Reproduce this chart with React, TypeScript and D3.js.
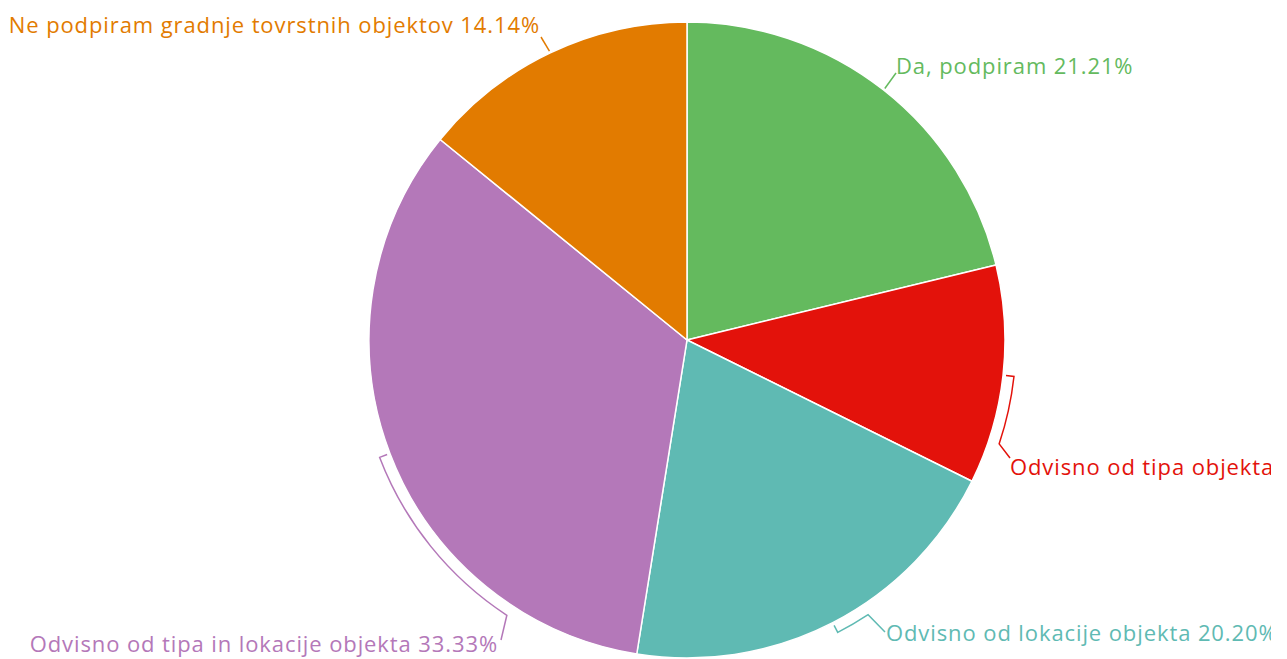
import React from "react";
import * as d3 from "d3";

const categories = [
  "Da, podpiram",
  "Odvisno od tipa objekta",
  "Odvisno od lokacije objekta",
  "Odvisno od tipa in lokacije objekta",
  "Ne podpiram gradnje tovrstnih objektov",
];
const values = [21.21, 11.11, 20.2, 33.33, 14.14];
const colors = ["#64BA5E", "#E3120B", "#5FBAB3", "#B478B9", "#E27B00"];

// label layout: arc end angle (deg), connector end point and text position relative to center, anchor
const labelLayout = [
  { arcTo: null, lx: 209, ly: -267, tx: 209, ty: -266, anchor: "start" },
  { arcTo: 108.4, lx: 323, ly: 118, tx: 323, ty: 135, anchor: "start" },
  { arcTo: 146.6, lx: 198, ly: 292, tx: 199, ty: 301, anchor: "start" },
  { arcTo: 213.2, lx: -186, ly: 300, tx: -189, ty: 312, anchor: "end" },
  { arcTo: null, lx: -146, ly: -303, tx: -147, ty: -307, anchor: "end" },
];

const W = 1287;
const H = 659;
const cx = 687;
const cy = 340;
const R = 318;
const clipW = 1271;

export default function App() {
  const pie = d3.pie<number>().sort(null).value((d) => d);
  const arcs = pie(values);
  const arcGen = d3.arc<d3.PieArcDatum<number>>().innerRadius(0).outerRadius(R);
  const pt = (a: number, r: number): [number, number] => [cx + r * Math.sin(a), cy - r * Math.cos(a)];
  const fmt = d3.format(".2f");

  return (
    <div style={{ position: "fixed", left: 0, top: 0, width: W, height: H, overflow: "hidden", background: "#fff" }}>
      <svg width={W} height={H} style={{ display: "block", fontFamily: "'Open Sans', sans-serif" }}>
        <defs>
          <clipPath id="plotClip">
            <rect x={0} y={0} width={clipW} height={H} />
          </clipPath>
        </defs>
        <g transform={`translate(${cx},${cy})`}>
          {arcs.map((a, i) => (
            <path key={i} d={arcGen(a) || ""} fill={colors[i]} stroke="#fff" strokeWidth={1.5} strokeLinejoin="round" />
          ))}
        </g>
        <g clipPath="url(#plotClip)">
          {arcs.map((a, i) => {
            const mid = (a.startAngle + a.endAngle) / 2;
            const L = labelLayout[i];
            const p = d3.path();
            if (L.arcTo === null) {
              const s = pt(mid, R + 2);
              p.moveTo(s[0], s[1]);
              p.lineTo(cx + L.lx, cy + L.ly);
            } else {
              const RA = R + 11;
              const s = pt(mid, R + 3);
              const e = pt(mid, RA);
              p.moveTo(s[0], s[1]);
              p.lineTo(e[0], e[1]);
              const b = (L.arcTo * Math.PI) / 180;
              p.arc(cx, cy, RA, mid - Math.PI / 2, b - Math.PI / 2, b < mid);
              p.lineTo(cx + L.lx, cy + L.ly);
            }
            return (
              <g key={"l" + i}>
                <path d={p.toString()} fill="none" stroke={colors[i]} strokeWidth={1.5} />
                <text
                  x={cx + L.tx}
                  y={cy + L.ty}
                  fill={colors[i]}
                  fontSize={22}
                  letterSpacing={0.9}
                  textAnchor={L.anchor as any}
                >
                  {`${categories[i]} ${fmt(values[i])}%`}
                </text>
              </g>
            );
          })}
        </g>
      </svg>
    </div>
  );
}
